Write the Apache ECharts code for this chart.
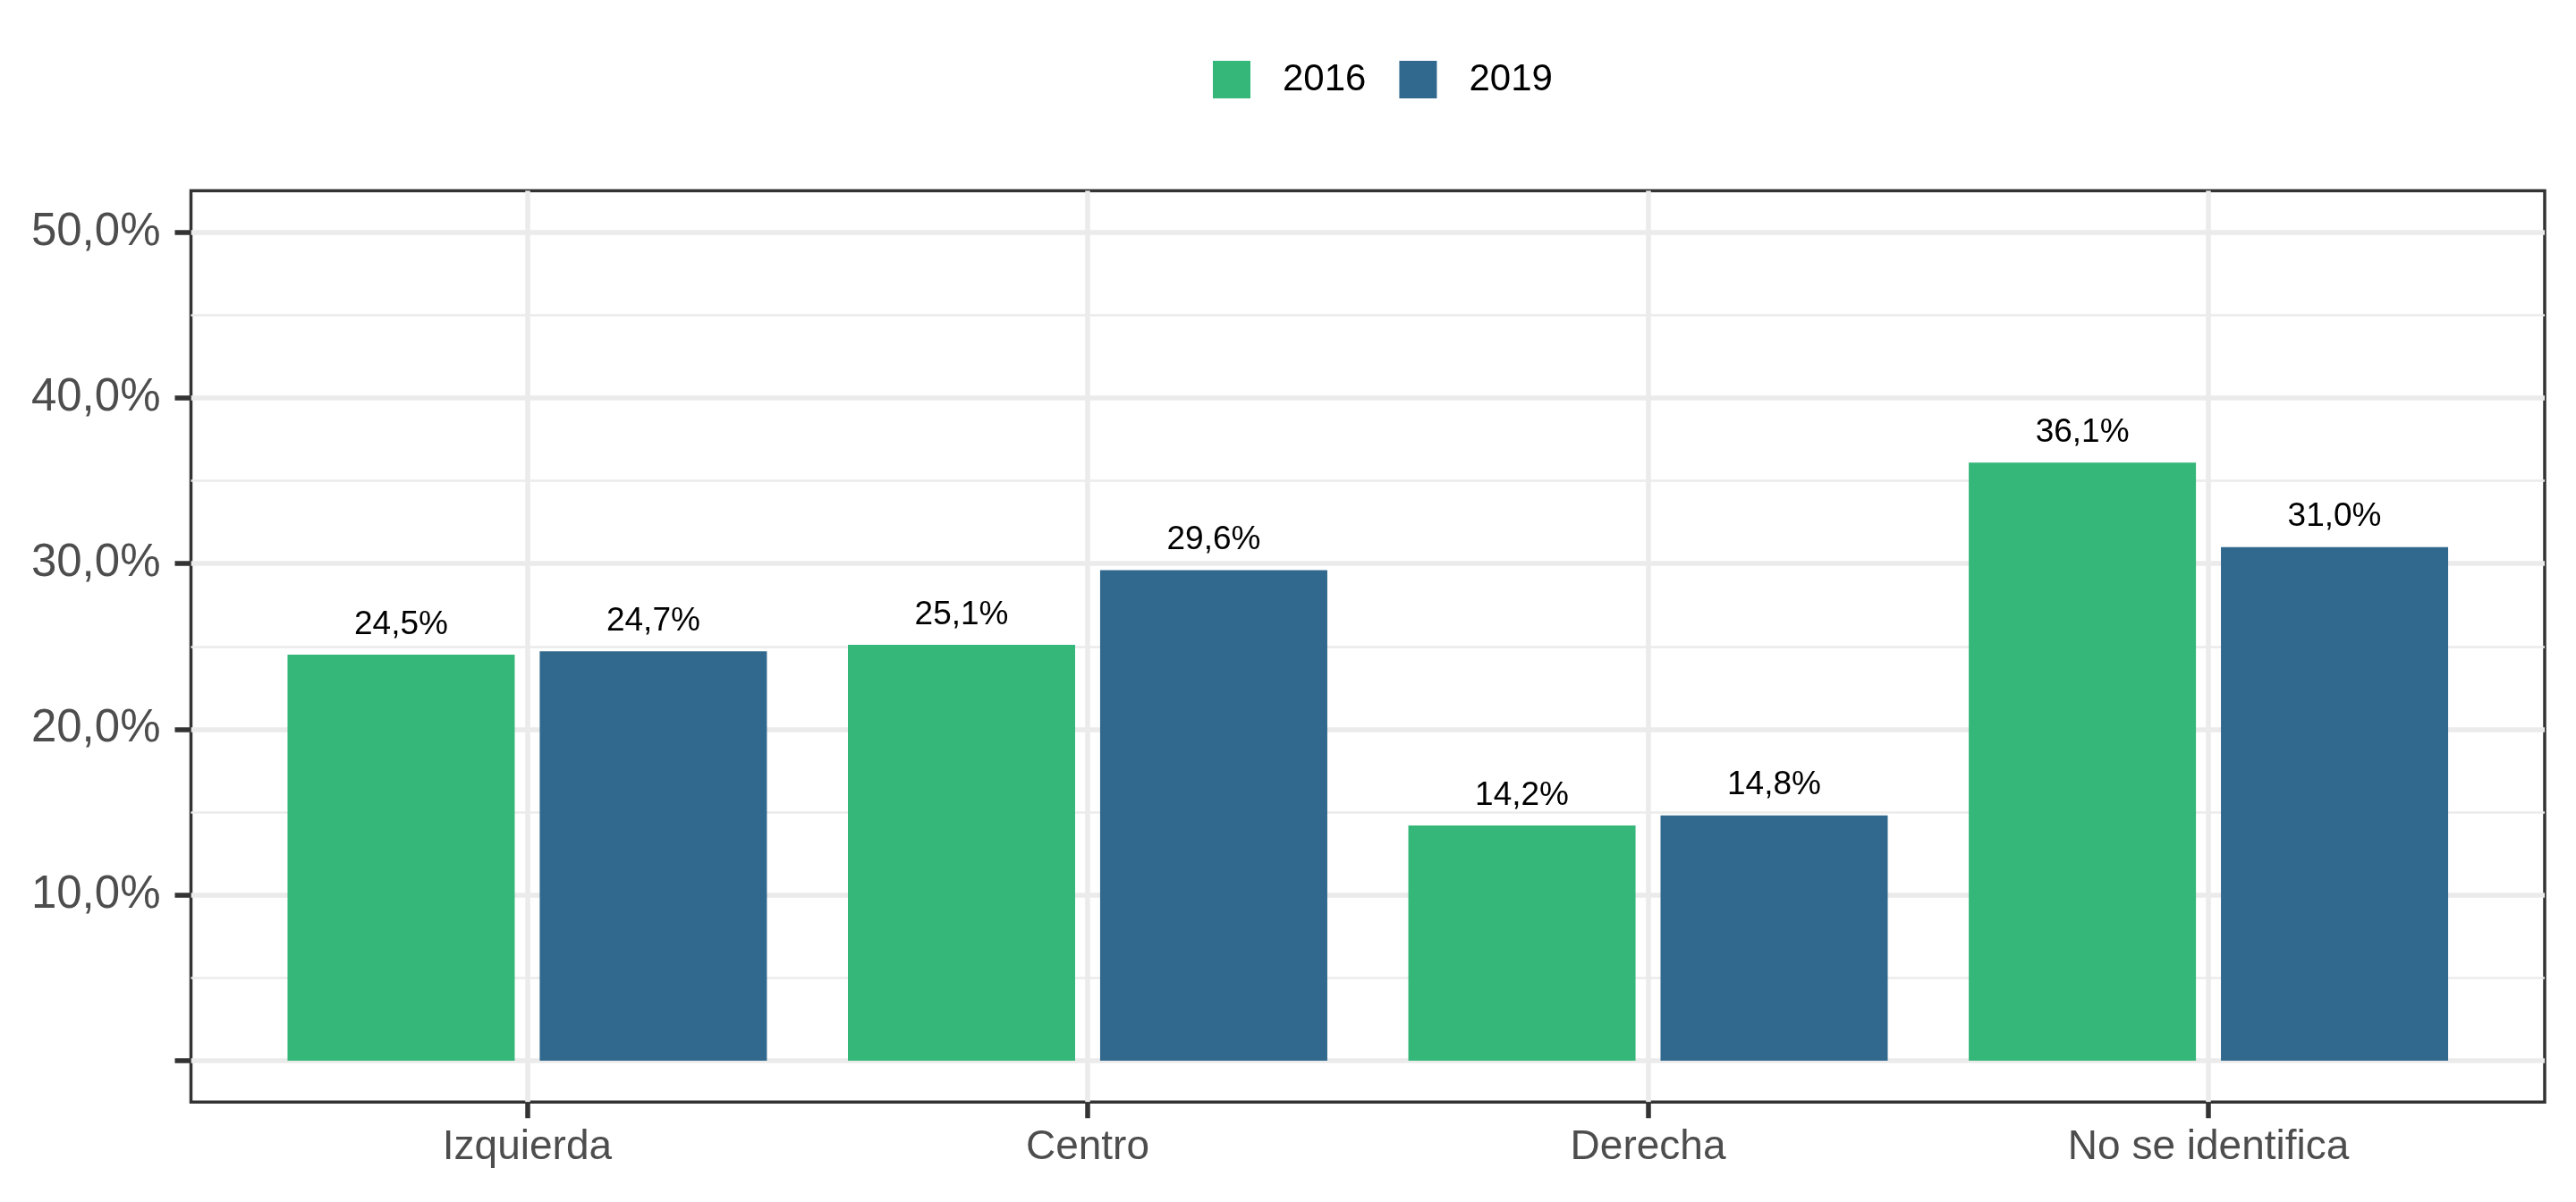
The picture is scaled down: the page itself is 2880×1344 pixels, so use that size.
<!DOCTYPE html>
<html>
<head>
<meta charset="utf-8">
<script src="https://cdn.jsdelivr.net/npm/echarts@6/dist/echarts.min.js"></script>
<style>
  html, body { margin: 0; padding: 0; background: #fff; }
  #chart { width: 2880px; height: 1344px; }
</style>
</head>
<body>
<div id="chart"></div>
<script>
const categories = ['Izquierda', 'Centro', 'Derecha', 'No se identifica'];
const years = ['2016', '2019'];
const values2016 = [24.5, 25.1, 14.2, 36.1];
const values2019 = [24.7, 29.6, 14.8, 31.0];
const yMajorTicks = [0, 10, 20, 30, 40, 50];
const yLabelTicks = [10, 20, 30, 40, 50];
const yMinorTicks = [5, 15, 25, 35, 45];

const FONT = "'Liberation Sans', Arial, sans-serif";
const colors = { '2016': '#35B779', '2019': '#31688E' };

// x positions of categories on a continuous axis (ggplot style padding 0.6)
const catPos = categories.map((c, i) => i + 1);
const pct = (v) => v.toFixed(1).replace('.', ',') + '%';

const chart = echarts.init(document.getElementById('chart'));

const makeSeries = (name, vals) => ({
  name,
  type: 'bar',
  xAxisIndex: 0,
  yAxisIndex: 0,
  data: vals.map((v, i) => [catPos[i], v]),
  barWidth: 254,
  barGap: '11%',
  itemStyle: { color: colors[name] },
  label: {
    show: true,
    position: 'top',
    distance: 15,
    fontFamily: FONT,
    fontSize: 37,
    color: '#000',
    formatter: (p) => pct(p.value[1]),
  },
  emphasis: { disabled: true },
});

chart.setOption({
  animation: false,
  backgroundColor: '#fff',
  textStyle: { fontFamily: FONT },
  legend: {
    left: 1351,
    top: 63,
    icon: 'rect',
    itemWidth: 42,
    itemHeight: 42,
    itemGap: 37,
    data: years,
    textStyle: { fontFamily: FONT, fontSize: 42, color: '#000', padding: [0, 0, 0, 31] },
  },
  grid: {
    left: 213.5,
    right: 35,
    top: 213.3,
    bottom: 111.7,
    show: true,
    borderColor: '#333333',
    borderWidth: 3.5,
    backgroundColor: 'transparent',
    outerBoundsMode: 'none',
  },
  xAxis: {
    type: 'value',
    min: 0.4,
    max: 4.6,
    axisLine: { show: false, onZero: false },
    axisTick: {
      show: true,
      customValues: catPos,
      length: 18,
      lineStyle: { color: '#333333', width: 5.5 },
    },
    axisLabel: {
      customValues: catPos,
      margin: 28,
      fontFamily: FONT,
      fontSize: 46,
      color: '#4D4D4D',
      formatter: (v) => categories[Math.round(v) - 1] || '',
    },
    splitLine: { show: true, lineStyle: { color: '#EBEBEB', width: 5.5 } },
  },
  yAxis: [
    {
      type: 'value',
      min: -2.5,
      max: 52.5,
      axisLine: { show: false, onZero: false },
      axisTick: {
        show: true,
        customValues: yMajorTicks,
        length: 18,
        lineStyle: { color: '#333333', width: 5.5 },
      },
      axisLabel: {
        customValues: yLabelTicks,
        margin: 34,
        fontFamily: FONT,
        fontSize: 51,
        color: '#4D4D4D',
        formatter: (v) => pct(v),
      },
      splitLine: { show: true, lineStyle: { color: '#EBEBEB', width: 5.5 } },
    },
    {
      type: 'value',
      min: -2.5,
      max: 52.5,
      position: 'left',
      axisLine: { show: false, onZero: false },
      axisTick: { show: false, customValues: yMinorTicks },
      axisLabel: { show: false, customValues: yMinorTicks },
      splitLine: { show: true, lineStyle: { color: '#EBEBEB', width: 2.7 } },
    },
  ],
  series: [makeSeries('2016', values2016), makeSeries('2019', values2019)],
});
</script>
</body>
</html>
